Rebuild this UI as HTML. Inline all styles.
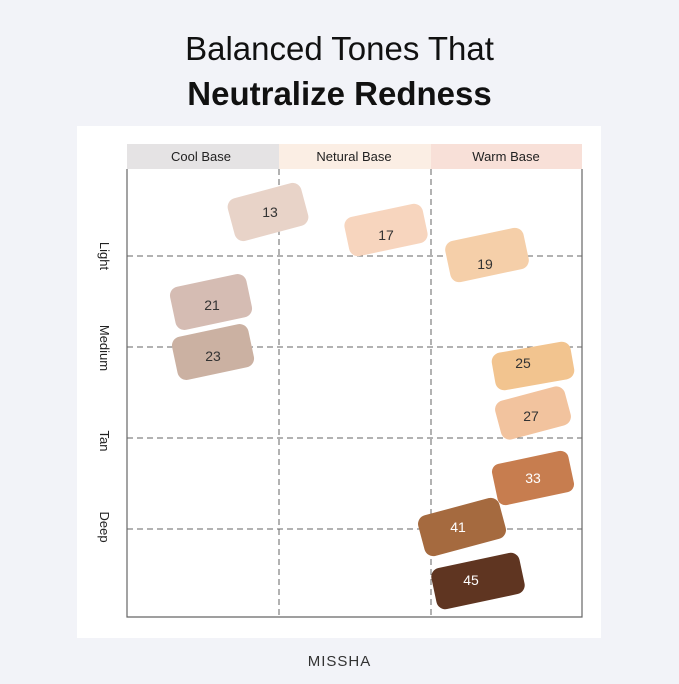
<!DOCTYPE html>
<html><head><style>
body{margin:0;width:679px;height:679px;background:#f2f3f8;font-family:"Liberation Sans",sans-serif;overflow:hidden}
</style></head><body>
<svg width="679" height="679" xmlns="http://www.w3.org/2000/svg" font-family="Liberation Sans, sans-serif">
<rect width="679" height="679" fill="#f2f3f8"/>
<text x="339.5" y="60" text-anchor="middle" font-size="33" fill="#111">Balanced Tones That</text>
<text x="339.5" y="105" text-anchor="middle" font-size="33" font-weight="bold" fill="#111">Neutralize Redness</text>
<rect x="77" y="126" width="524" height="512" fill="#fff"/>
<rect x="127" y="144" width="152" height="25" fill="#e5e3e4"/>
<rect x="279" y="144" width="152" height="25" fill="#fbeee4"/>
<rect x="431" y="144" width="151" height="25" fill="#f8e0d8"/>
<g font-size="13" fill="#222" text-anchor="middle">
<text x="201" y="161">Cool Base</text><text x="354" y="161">Netural Base</text><text x="506" y="161">Warm Base</text>
</g>
<g stroke="#666" stroke-width="1" stroke-dasharray="6,4" fill="none">
<line x1="279" y1="169" x2="279" y2="617"/><line x1="431" y1="169" x2="431" y2="617"/>
<line x1="127" y1="256" x2="582" y2="256"/><line x1="127" y1="347" x2="582" y2="347"/>
<line x1="127" y1="438" x2="582" y2="438"/><line x1="127" y1="529" x2="582" y2="529"/>
</g>
<polyline points="127,169 127,617 582,617 582,169" fill="none" stroke="#666" stroke-width="1.2"/>
<g font-size="13" fill="#222" text-anchor="middle">
<text transform="translate(100,256) rotate(90)">Light</text>
<text transform="translate(100,348) rotate(90)">Medium</text>
<text transform="translate(100,441) rotate(90)">Tan</text>
<text transform="translate(100,527) rotate(90)">Deep</text>
</g>
<g>
<rect transform="translate(268,212) rotate(-15)" x="-38" y="-22" width="76" height="44" rx="9" fill="#e8d3c8"/>
<rect transform="translate(386,230) rotate(-12)" x="-40" y="-20" width="80" height="40" rx="9" fill="#f7d5be"/>
<rect transform="translate(487,255) rotate(-12)" x="-40" y="-21" width="80" height="42" rx="9" fill="#f5cfa9"/>
<rect transform="translate(211,302) rotate(-12)" x="-39" y="-22" width="78" height="44" rx="9" fill="#d5bcb3"/>
<rect transform="translate(213,352) rotate(-12)" x="-39" y="-22" width="78" height="44" rx="9" fill="#cbb1a2"/>
<rect transform="translate(533,366) rotate(-10)" x="-40" y="-19" width="80" height="38" rx="9" fill="#f2c48f"/>
<rect transform="translate(533,413) rotate(-15)" x="-36" y="-20" width="72" height="40" rx="9" fill="#f2c39e"/>
<rect transform="translate(533,478) rotate(-12)" x="-39" y="-21" width="78" height="42" rx="8" fill="#c77d4f"/>
<rect transform="translate(462,527) rotate(-15)" x="-42" y="-21" width="84" height="42" rx="9" fill="#a56a3f"/>
<rect transform="translate(478,581) rotate(-12)" x="-45" y="-21" width="90" height="42" rx="9" fill="#5f3521"/>
</g>
<g font-size="14" text-anchor="middle">
<text x="270" y="217" fill="#333">13</text>
<text x="386" y="240" fill="#333">17</text>
<text x="485" y="269" fill="#333">19</text>
<text x="212" y="310" fill="#333">21</text>
<text x="213" y="361" fill="#333">23</text>
<text x="523" y="368" fill="#333">25</text>
<text x="531" y="421" fill="#333">27</text>
<text x="533" y="483" fill="#fff">33</text>
<text x="458" y="532" fill="#fff">41</text>
<text x="471" y="585" fill="#fff">45</text>
</g>
<text x="339.5" y="666" text-anchor="middle" font-size="15" letter-spacing="1" fill="#333">MISSHA</text>
</svg>
</body></html>
